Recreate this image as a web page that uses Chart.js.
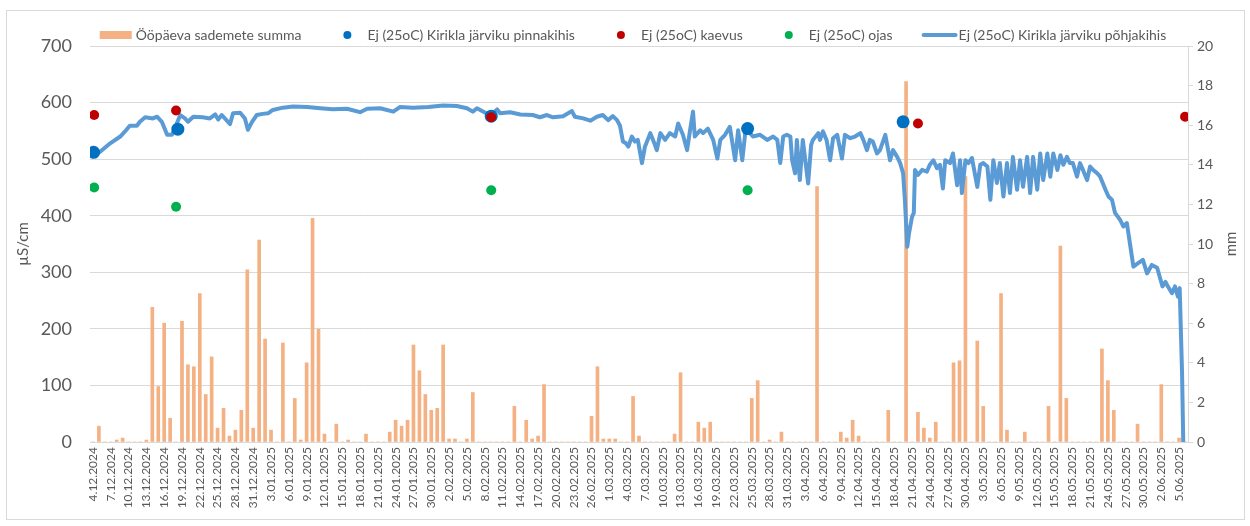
<!DOCTYPE html>
<html lang="et">
<head>
<meta charset="utf-8">
<title>Elektrijuhtivus ja sademed</title>
<script src="https://cdn.jsdelivr.net/npm/chart.js@4.4.1/dist/chart.umd.min.js"></script>
<style>
  html, body { margin: 0; padding: 0; background: #fff; }
  #wrap { position: relative; width: 1250px; height: 526px; }
</style>
</head>
<body>
<div id="wrap"><canvas id="ecChart"></canvas></div>
<script>
// x axis labels, one every 3 days starting 4.12.2024 (day 0)
const tickLabels = [
  "4.12.2024", "7.12.2024", "10.12.2024", "13.12.2024", "16.12.2024", "19.12.2024", "22.12.2024",
  "25.12.2024", "28.12.2024", "31.12.2024", "3.01.2025", "6.01.2025", "9.01.2025", "12.01.2025",
  "15.01.2025", "18.01.2025", "21.01.2025", "24.01.2025", "27.01.2025", "30.01.2025", "2.02.2025",
  "5.02.2025", "8.02.2025", "11.02.2025", "14.02.2025", "17.02.2025", "20.02.2025", "23.02.2025",
  "26.02.2025", "1.03.2025", "4.03.2025", "7.03.2025", "10.03.2025", "13.03.2025", "16.03.2025",
  "19.03.2025", "22.03.2025", "25.03.2025", "28.03.2025", "31.03.2025", "3.04.2025", "6.04.2025",
  "9.04.2025", "12.04.2025", "15.04.2025", "18.04.2025", "21.04.2025", "24.04.2025", "27.04.2025",
  "30.04.2025", "3.05.2025", "6.05.2025", "9.05.2025", "12.05.2025", "15.05.2025", "18.05.2025",
  "21.05.2025", "24.05.2025", "27.05.2025", "30.05.2025", "2.06.2025", "5.06.2025",
]

// daily precipitation (mm), 4.12.2024 ... 6.06.2025
const rain = [
  0, 0.8, 0, 0, 0.1, 0.2, 0, 0, 0, 0.1,
  6.8, 2.8, 6.0, 1.2, 0, 6.1, 3.9, 3.8, 7.5, 2.4,
  4.3, 0.7, 1.7, 0.3, 0.6, 1.6, 8.7, 0.7, 10.2, 5.2,
  0.6, 0, 5.0, 0, 2.2, 0.1, 4.0, 11.3, 5.7, 0.4,
  0, 0.9, 0, 0.1, 0, 0, 0.4, 0, 0, 0,
  0.5, 1.1, 0.8, 1.1, 4.9, 3.6, 2.4, 1.6, 1.7, 4.9,
  0.15, 0.15, 0, 0.15, 2.5, 0, 0, 0, 0, 0,
  0, 1.8, 0, 1.1, 0.15, 0.3, 2.9, 0, 0, 0,
  0, 0, 0, 0, 1.3, 3.8, 0.15, 0.15, 0.15, 0,
  0, 2.3, 0.3, 0, 0, 0, 0, 0, 0.4, 3.5,
  0, 0, 1.0, 0.7, 1.0, 0, 0, 0, 0, 0,
  0, 2.2, 3.1, 0, 0.1, 0, 0.5, 0, 0, 0,
  0, 0, 12.9, 0, 0, 0, 0.5, 0.2, 1.1, 0.3,
  0, 0, 0, 0, 1.6, 0, 0, 18.2, 0, 1.5,
  0.7, 0.2, 1.0, 0, 0, 4.0, 4.1, 13.4, 0, 5.1,
  1.8, 0, 0, 7.5, 0.6, 0, 0, 0.5, 0, 0,
  0, 1.8, 0, 9.9, 2.2, 0, 0, 0, 0, 0,
  4.7, 3.1, 1.6, 0, 0, 0, 0.9, 0, 0, 0,
  2.9, 0, 0, 0.2, 0,
]

// logger in the bottom layer: [day, µS/cm]
const bottomLayer = [
  [0.0, 505], [0.3, 507], [1.2, 513], [2.9, 528], [4.6, 540], [5.4, 549], [6.2, 559], [7.4, 559],
  [7.9, 566], [8.8, 574], [10.1, 572], [10.8, 575], [11.6, 566], [12.5, 543], [13.3, 543], [13.8, 554],
  [14.7, 578], [15.5, 572], [16.0, 566], [16.9, 575], [18.5, 574], [19.7, 572], [20.6, 579], [21.1, 570],
  [21.7, 578], [23.1, 562], [23.6, 581], [24.8, 582], [25.6, 572], [26.1, 552], [26.8, 566], [27.6, 578],
  [28.6, 580], [29.5, 581], [30.3, 587], [32.0, 591], [33.7, 593], [36.1, 592], [38.3, 590], [40.4, 588],
  [42.8, 589], [45.0, 583], [46.2, 589], [48.4, 590], [50.6, 584], [51.7, 592], [53.9, 591], [56.5, 592],
  [59.0, 595], [61.3, 594], [63.0, 590], [64.0, 584], [64.7, 590], [66.1, 582], [67.1, 578], [68.1, 588],
  [68.6, 581], [70.3, 583], [72.0, 579], [74.1, 578], [75.3, 574], [76.5, 578], [77.5, 574], [79.2, 576],
  [80.7, 585], [81.2, 575], [82.6, 572], [83.8, 568], [84.9, 575], [85.9, 578], [86.8, 569], [87.6, 576],
  [88.3, 569], [88.8, 559], [89.3, 531], [89.8, 528], [90.2, 522], [90.8, 540], [91.3, 531], [91.8, 534],
  [92.5, 493], [93.0, 522], [93.9, 546], [94.7, 525], [95.0, 516], [95.6, 546], [96.4, 534], [97.2, 546],
  [98.1, 540], [98.6, 563], [99.4, 543], [100.1, 516], [100.6, 551], [101.1, 584], [101.4, 540], [102.3, 551],
  [102.8, 546], [103.6, 554], [104.5, 534], [105.2, 501], [105.7, 534], [106.5, 543], [107.3, 557], [108.2, 498],
  [108.7, 551], [109.4, 498], [109.9, 546], [110.7, 546], [111.2, 540], [112.4, 543], [113.6, 534], [114.6, 540],
  [115.3, 534], [115.8, 493], [116.3, 540], [116.9, 543], [117.5, 540], [117.8, 498], [118.3, 475], [118.6, 534],
  [119.1, 463], [119.6, 534], [120.5, 457], [121.0, 525], [121.3, 534], [122.2, 546], [122.5, 534], [123.0, 549],
  [123.6, 534], [124.2, 498], [124.7, 537], [125.4, 543], [126.2, 501], [126.7, 543], [127.6, 537], [128.4, 540],
  [129.3, 546], [129.8, 534], [130.4, 516], [130.9, 534], [131.4, 531], [132.1, 510], [132.6, 516], [133.5, 543],
  [134.3, 498], [134.8, 516], [135.5, 504], [136.0, 493], [136.5, 475], [136.8, 428], [137.2, 345], [137.5, 369],
  [138.0, 398], [138.3, 405], [138.5, 481], [139.0, 472], [139.7, 481], [140.5, 478], [141.0, 490], [141.6, 498],
  [142.2, 484], [142.7, 490], [143.2, 448], [143.6, 498], [144.4, 493], [144.9, 510], [145.6, 454], [146.1, 498],
  [146.4, 440], [147.0, 498], [147.5, 493], [148.1, 502], [149.0, 451], [149.5, 490], [150.0, 493], [150.7, 487],
  [151.2, 428], [151.7, 498], [152.3, 458], [152.8, 493], [153.4, 434], [154.0, 493], [154.5, 440], [155.0, 504],
  [155.7, 446], [156.2, 498], [156.7, 451], [157.4, 504], [157.9, 440], [158.4, 504], [159.1, 446], [159.6, 510],
  [160.1, 463], [160.8, 510], [161.3, 469], [161.8, 510], [162.5, 481], [163.0, 507], [163.5, 490], [164.1, 504],
  [164.6, 493], [165.1, 493], [165.8, 469], [166.3, 493], [166.8, 481], [167.5, 463], [168.0, 487], [168.5, 481],
  [169.2, 475], [169.7, 469], [170.6, 446], [171.1, 434], [171.7, 428], [172.2, 405], [172.7, 398], [173.1, 392],
  [173.6, 381], [174.2, 387], [174.8, 345], [175.3, 310], [176.1, 316], [176.9, 322], [177.6, 298], [178.4, 313],
  [179.3, 308], [180.2, 275], [180.7, 283], [181.0, 277], [181.8, 263], [182.3, 275], [182.8, 257], [183.1, 272],
  [183.5, 121], [183.7, 0],
]

// grab samples: [day, µS/cm]
const surfaceSamples = [[0.1, 512], [14.3, 553], [67.1, 576], [110.3, 554], [136.5, 566]]
const wellSamples = [[0.2, 578], [14.0, 586], [67.1, 574], [139.0, 563], [184.0, 575]]
const ditchSamples = [[0.2, 450], [14.0, 416], [67.1, 445], [110.3, 445]]

const textColor = "#595959"
const gridColor = "#d9d9d9"

Chart.defaults.font.family = "Lato, 'Liberation Sans', sans-serif"
Chart.defaults.color = textColor

function toPoints(pairs) {
  return pairs.map(([d, v]) => ({ x: d, y: v }))
}

// Excel-like legend drawn on top of the canvas
const sheetLegend = {
  id: "sheetLegend",
  beforeDraw(chart) {
    const ctx = chart.ctx
    ctx.save()
    ctx.fillStyle = "#fff"
    ctx.fillRect(0, 0, chart.width, chart.height)
    ctx.strokeStyle = gridColor
    ctx.lineWidth = 1
    ctx.strokeRect(6.5, 10.5, 1238, 509)
    ctx.restore()
  },
  afterDraw(chart) {
    const ctx = chart.ctx
    ctx.save()
    ctx.font = "14px Lato"
    ctx.textBaseline = "middle"
    const gap = 30
    const items = chart.data.datasets.map((ds) => ({ ds, w: 36 + ctx.measureText(ds.label).width }))
    const total = items.reduce((s, it) => s + it.w, 0) + gap * (items.length - 1)
    let x = 633 - total / 2
    const y = 35
    items.forEach((it) => {
      const ds = it.ds
      if (ds.legendMarker === "rect") {
        ctx.fillStyle = ds.backgroundColor
        ctx.fillRect(x, y - 4, 32, 8)
      } else if (ds.legendMarker === "line") {
        ctx.strokeStyle = ds.borderColor
        ctx.lineWidth = 4
        ctx.lineCap = "round"
        ctx.beginPath()
        ctx.moveTo(x + 1, y)
        ctx.lineTo(x + 33, y)
        ctx.stroke()
      } else {
        ctx.fillStyle = ds.backgroundColor
        ctx.beginPath()
        ctx.arc(x + 16, y, 4, 0, Math.PI * 2)
        ctx.fill()
      }
      ctx.fillStyle = textColor
      ctx.fillText(ds.label, x + 36, y)
      x += it.w + gap
    })

    // right axis title, rotated like the left one
    ctx.font = "15px Lato"
    ctx.textAlign = "center"
    ctx.translate(1231, chart.chartArea.top + (chart.chartArea.bottom - chart.chartArea.top) / 2)
    ctx.rotate(-Math.PI / 2)
    ctx.fillText("mm", 0, 0)
    ctx.restore()
  },
}

function initializeChart() {
  const ctx = document.getElementById("ecChart")

  new Chart(ctx, {
    type: "bar",
    data: {
      datasets: [
        {
          type: "bar",
          label: "Ööpäeva sademete summa",
          data: rain.map((v, i) => ({ x: i, y: v })),
          backgroundColor: "#F4B183",
          barThickness: 3,
          yAxisID: "y1",
          order: 5,
          legendMarker: "rect",
        },
        {
          type: "scatter",
          label: "Ej (25oC) Kirikla järviku pinnakihis",
          data: toPoints(surfaceSamples),
          backgroundColor: "#0070C0",
          borderWidth: 0,
          pointRadius: 6.5,
          yAxisID: "y",
          order: 3,
        },
        {
          type: "scatter",
          label: "Ej (25oC) kaevus",
          data: toPoints(wellSamples),
          backgroundColor: "#C00000",
          borderWidth: 0,
          pointRadius: 5,
          yAxisID: "y",
          order: 2,
        },
        {
          type: "scatter",
          label: "Ej (25oC) ojas",
          data: toPoints(ditchSamples),
          backgroundColor: "#00B050",
          borderWidth: 0,
          pointRadius: 5,
          yAxisID: "y",
          order: 1,
        },
        {
          type: "line",
          label: "Ej (25oC) Kirikla järviku põhjakihis",
          data: toPoints(bottomLayer),
          borderColor: "#5B9BD5",
          backgroundColor: "#5B9BD5",
          borderWidth: 4,
          borderJoinStyle: "round",
          borderCapStyle: "round",
          pointRadius: 0,
          tension: 0,
          yAxisID: "y",
          order: 4,
          legendMarker: "line",
        },
      ],
    },
    options: {
      responsive: true,
      maintainAspectRatio: false,
      animation: false,
      layout: { padding: { top: 46, left: 0, right: 0, bottom: 0 } },
      plugins: {
        legend: { display: false },
        tooltip: { enabled: false },
      },
      scales: {
        x: {
          type: "linear",
          offset: false,
          min: -0.5,
          max: 184.5,
          afterBuildTicks: (scale) => {
            scale.ticks = tickLabels.map((_, i) => ({ value: i * 3 }))
          },
          afterFit: (scale) => {
            scale.height = 84
          },
          grid: { display: false, drawTicks: false, offset: false },
          border: { display: false },
          ticks: {
            autoSkip: false,
            minRotation: 90,
            maxRotation: 90,
            padding: 5,
            color: textColor,
            font: { size: 12 },
            callback: (v) => tickLabels[v / 3],
          },
        },
        y: {
          position: "left",
          min: 0,
          max: 700,
          afterFit: (scale) => {
            scale.width = 90
          },
          grid: { color: gridColor, drawTicks: false },
          border: { display: false },
          ticks: { stepSize: 100, padding: 18, color: textColor, font: { size: 18 } },
          title: {
            display: true,
            text: "µS/cm",
            color: textColor,
            font: { size: 15 },
            padding: { top: 14, bottom: 0 },
          },
        },
        y1: {
          position: "right",
          min: 0,
          max: 20,
          afterFit: (scale) => {
            scale.width = 62
          },
          grid: { drawOnChartArea: false, color: gridColor, tickLength: 5 },
          border: { display: true, color: gridColor },
          ticks: { stepSize: 2, padding: 4, color: textColor, font: { size: 14 } },
        },
      },
    },
    plugins: [sheetLegend],
  })
}

document.addEventListener("DOMContentLoaded", () => {
  initializeChart()
})
</script>
</body>
</html>
